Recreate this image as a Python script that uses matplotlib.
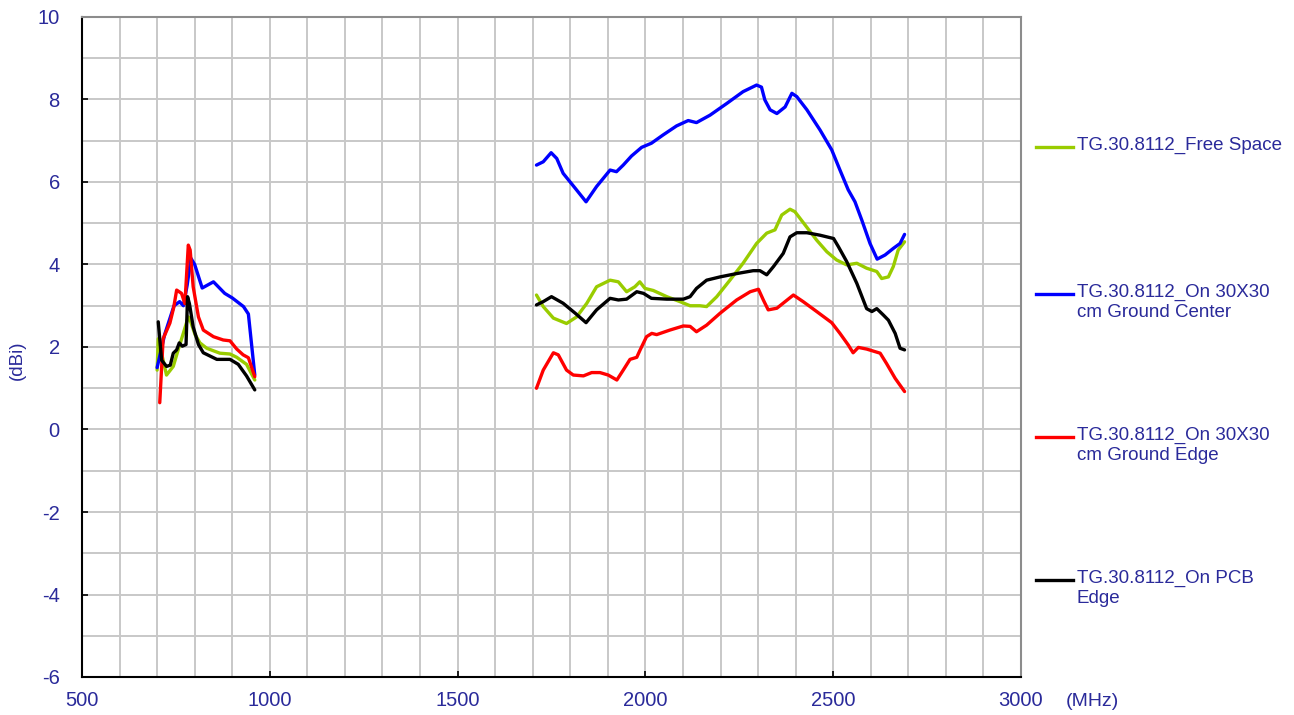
import matplotlib
matplotlib.use("Agg")
import matplotlib.pyplot as plt
from matplotlib.lines import Line2D

plt.rcParams["font.family"] = ["Liberation Sans", "DejaVu Sans"]
plt.rcParams["axes.unicode_minus"] = False

# low band (MHz, dBi)
free_lo_f = [700, 703, 725, 743, 756, 770, 783, 788, 801, 814, 832, 867, 894, 912, 938, 960]
free_lo_v = [1.44, 2.2, 1.32, 1.53, 1.93, 2.34, 2.73, 2.65, 2.3, 2.1, 1.97, 1.85, 1.83, 1.75, 1.58, 1.2]

center_lo_f = [700, 720, 745, 760, 770, 780, 790, 800, 820, 850, 880, 900, 930, 943, 960]
center_lo_v = [1.5, 2.3, 3.0, 3.1, 3.0, 3.5, 4.15, 4.0, 3.43, 3.58, 3.3, 3.19, 2.98, 2.8, 1.32]

edge_lo_f = [707, 716, 734, 744, 752, 765, 774, 783, 788, 796, 810, 823, 850, 876, 894, 912, 929, 943, 960]
edge_lo_v = [0.65, 2.2, 2.58, 2.95, 3.38, 3.3, 3.05, 4.47, 4.35, 3.46, 2.73, 2.41, 2.25, 2.17, 2.15, 1.95, 1.81, 1.74, 1.28]

pcb_lo_f = [703, 712, 725, 735, 743, 752, 759, 767, 777, 781, 786, 796, 810, 823, 859, 894, 916, 938, 960]
pcb_lo_v = [2.61, 1.68, 1.53, 1.56, 1.85, 1.93, 2.1, 2.02, 2.06, 3.22, 3.05, 2.49, 2.06, 1.86, 1.7, 1.7, 1.58, 1.3, 0.96]

# high band
free_hi_f = [1710, 1728, 1755, 1790, 1817, 1844, 1870, 1906, 1928, 1950, 1972, 1985, 1999, 2021, 2057,
             2092, 2119, 2145, 2163, 2190, 2225, 2260, 2296, 2323, 2345, 2363, 2385, 2398, 2425, 2456,
             2483, 2509, 2536, 2563, 2589, 2616, 2629, 2647, 2660, 2673, 2690]
free_hi_v = [3.26, 2.98, 2.7, 2.57, 2.73, 3.06, 3.46, 3.62, 3.58, 3.34, 3.46, 3.58, 3.42, 3.37, 3.22,
             3.1, 3.0, 3.0, 2.98, 3.22, 3.62, 4.03, 4.51, 4.76, 4.84, 5.2, 5.34, 5.28, 4.96, 4.59,
             4.31, 4.11, 3.99, 4.03, 3.91, 3.83, 3.66, 3.7, 3.95, 4.35, 4.55]

center_hi_f = [1710, 1728, 1749, 1764, 1781, 1813, 1842, 1870, 1906, 1923, 1941, 1963, 1990, 2016, 2047,
               2083, 2114, 2136, 2172, 2216, 2260, 2296, 2309, 2318, 2332, 2350, 2372, 2390, 2403, 2430,
               2465, 2496, 2518, 2540, 2558, 2576, 2598, 2617, 2638, 2660, 2678, 2690]
center_hi_v = [6.41, 6.49, 6.71, 6.57, 6.21, 5.85, 5.52, 5.89, 6.29, 6.25, 6.41, 6.63, 6.84, 6.94, 7.14,
               7.36, 7.49, 7.44, 7.62, 7.9, 8.19, 8.35, 8.3, 7.99, 7.75, 7.66, 7.82, 8.15, 8.07, 7.75,
               7.26, 6.78, 6.29, 5.81, 5.52, 5.08, 4.51, 4.13, 4.23, 4.39, 4.51, 4.73]

edge_hi_f = [1710, 1728, 1755, 1768, 1790, 1808, 1835, 1857, 1879, 1901, 1924, 1941, 1959, 1977, 1986,
             2003, 2017, 2030, 2065, 2101, 2119, 2136, 2163, 2199, 2243, 2279, 2301, 2314, 2327, 2350,
             2372, 2394, 2420, 2456, 2496, 2518, 2540, 2553, 2567, 2589, 2625, 2642, 2665, 2690]
edge_hi_v = [1.0, 1.44, 1.86, 1.81, 1.44, 1.32, 1.3, 1.38, 1.38, 1.32, 1.2, 1.44, 1.7, 1.75, 1.93,
             2.25, 2.33, 2.3, 2.41, 2.51, 2.5, 2.37, 2.53, 2.82, 3.14, 3.34, 3.4, 3.14, 2.9, 2.94,
             3.1, 3.26, 3.1, 2.86, 2.59, 2.33, 2.05, 1.86, 1.99, 1.95, 1.85, 1.6, 1.24, 0.92]

pcb_hi_f = [1710, 1728, 1750, 1781, 1813, 1842, 1870, 1906, 1928, 1950, 1977, 1995, 2016, 2057, 2101,
            2119, 2136, 2163, 2199, 2243, 2287, 2305, 2323, 2341, 2367, 2385, 2403, 2430, 2465, 2501,
            2514, 2536, 2563, 2589, 2603, 2616, 2633, 2647, 2665, 2678, 2690]
pcb_hi_v = [3.02, 3.1, 3.22, 3.06, 2.82, 2.59, 2.9, 3.18, 3.14, 3.16, 3.34, 3.3, 3.18, 3.16, 3.16,
            3.22, 3.42, 3.62, 3.7, 3.78, 3.85, 3.85, 3.75, 3.95, 4.27, 4.67, 4.77, 4.77, 4.71, 4.63,
            4.43, 4.07, 3.54, 2.93, 2.86, 2.93, 2.78, 2.65, 2.33, 1.97, 1.93]

labels = ["TG.30.8112_Free Space",
          "TG.30.8112_On 30X30\ncm Ground Center",
          "TG.30.8112_On 30X30\ncm Ground Edge",
          "TG.30.8112_On PCB\nEdge"]
colors = ["#99cc00", "#0000ff", "#ff0000", "#000000"]
series = [(free_lo_f, free_lo_v, free_hi_f, free_hi_v),
          (center_lo_f, center_lo_v, center_hi_f, center_hi_v),
          (edge_lo_f, edge_lo_v, edge_hi_f, edge_hi_v),
          (pcb_lo_f, pcb_lo_v, pcb_hi_f, pcb_hi_v)]

txt_color = "#2a2a9a"

fig = plt.figure(figsize=(12.94, 7.15), dpi=100)
ax = fig.add_axes([82 / 1294, 38 / 715, 939 / 1294, 660 / 715])

for (lf, lv, hf, hv), c in zip(series, colors):
    ax.plot(lf, lv, color=c, linewidth=2.4, solid_joinstyle="round", solid_capstyle="round")
    ax.plot(hf, hv, color=c, linewidth=2.4, solid_joinstyle="round", solid_capstyle="round")

ax.set_xlim(500, 3000)
ax.set_ylim(-6, 10)
ax.set_xticks(range(500, 3001, 500))
ax.set_yticks(range(-6, 11, 2))
ax.set_xticks(range(500, 3001, 100), minor=True)
ax.set_yticks(range(-6, 11, 1), minor=True)
ax.grid(which="both", color="#c8c8c8", linewidth=1.4)
ax.set_axisbelow(True)
ax.tick_params(which="major", direction="in", length=4, width=1.2, colors="black",
               labelcolor=txt_color, labelsize=14.5)
ax.tick_params(axis="y", which="major", pad=16)
ax.tick_params(axis="x", which="major", pad=10)
ax.tick_params(which="minor", length=0)
for s in ["left", "bottom"]:
    ax.spines[s].set_color("black")
    ax.spines[s].set_linewidth(1.5)
for s in ["top", "right"]:
    ax.spines[s].set_color("#8c8c8c")
    ax.spines[s].set_linewidth(1.5)

fig.text(17 / 1294, 1 - 360 / 715, "(dBi)", rotation=90, color=txt_color,
         fontsize=13.5, ha="center", va="center")
fig.text(1092 / 1294, 1 - 702 / 715, "(MHz)", color=txt_color,
         fontsize=14, ha="center", va="center")

# legend on the right
leg_y = [147, 294, 437, 580]
for y, lab, c in zip(leg_y, labels, colors):
    yf = 1 - y / 715
    fig.add_artist(Line2D([1036 / 1294, 1073 / 1294], [yf, yf], color=c,
                          linewidth=2.4, transform=fig.transFigure))
    fig.text(1077 / 1294, 1 - (y - 10) / 715, lab, color=txt_color, fontsize=13.5,
             ha="left", va="top", linespacing=1.2)

fig.savefig("out.png", dpi=100)
